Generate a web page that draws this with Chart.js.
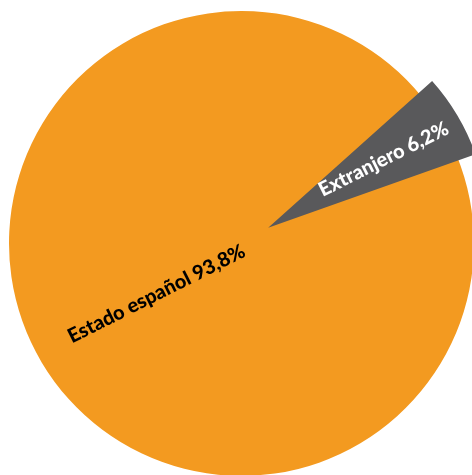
<!DOCTYPE html>
<html>
<head>
<meta charset="utf-8">
<script src="https://cdn.jsdelivr.net/npm/chart.js@4"></script>
<style>
  html, body { margin: 0; padding: 0; background: #fff; overflow: hidden; }
  #wrap { position: absolute; left: 0; top: 0; }
</style>
</head>
<body>
<div id="wrap"><canvas id="pie" width="483" height="487"></canvas></div>
<script>
const labels = ['Estado español', 'Extranjero'];
const values = [93.8, 6.2];
const colors = ['#F39A20', '#59595B'];
const textColors = ['#000000', '#FFFFFF'];

// pull the small slice out of the pie and draw it a little shorter;
// the big slice is closed into a full disc underneath it
const explode = {
    id: 'explode',
    afterDatasetsUpdate(chart) {
        const arcs = chart.getDatasetMeta(0).data;
        arcs.forEach(a => { a.$mid = (a.startAngle + a.endAngle) / 2; });
        const big = arcs[0];
        big.endAngle = big.startAngle + Math.PI * 2;
        big.circumference = Math.PI * 2;
        const arc = arcs[1];
        arc.x += Math.cos(arc.$mid) * 31;
        arc.y += Math.sin(arc.$mid) * 31;
        arc.outerRadius -= 12.5;
    }
};

// slice labels, written roughly along the radius of each slice
const sliceLabels = {
    id: 'sliceLabels',
    afterDatasetsDraw(chart) {
        const ctx = chart.ctx;
        const dist = [0.425, 0.61];
        const tilt = 4 * Math.PI / 180;
        chart.getDatasetMeta(0).data.forEach((arc, i) => {
            const mid = arc.$mid;
            const r = arc.outerRadius * dist[i];
            let rot = mid;
            if (Math.cos(mid) < 0) rot = mid - Math.PI;
            ctx.save();
            ctx.translate(arc.x + Math.cos(mid) * r, arc.y + Math.sin(mid) * r);
            ctx.rotate(rot + tilt);
            ctx.font = '900 20px Lato';
            ctx.fillStyle = textColors[i];
            ctx.textAlign = 'center';
            ctx.textBaseline = 'middle';
            ctx.fillText(labels[i] + ' ' + values[i].toFixed(1).replace('.', ',') + '%', 0, 0);
            ctx.restore();
        });
    }
};

new Chart(document.getElementById('pie'), {
    type: 'pie',
    data: {
        labels: labels,
        datasets: [{
            data: values,
            backgroundColor: colors,
            borderWidth: 0
        }]
    },
    options: {
        responsive: false,
        animation: false,
        rotation: 70.5,
        radius: 232.5,
        layout: { padding: 0 },
        plugins: {
            legend: { display: false },
            tooltip: { enabled: false }
        }
    },
    plugins: [explode, sliceLabels]
});
</script>
</body>
</html>
